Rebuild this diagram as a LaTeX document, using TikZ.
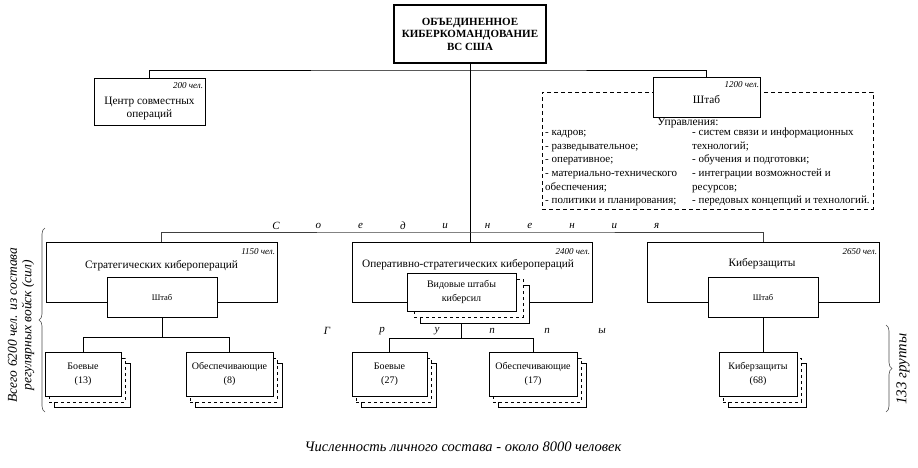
\documentclass[tikz,border=0pt]{standalone}
\usepackage{fontspec}
\setmainfont{Liberation Serif}
\usetikzlibrary{shadows,decorations.pathreplacing,calc,backgrounds}
\begin{document}
\begin{tikzpicture}[x=1pt,y=-1pt,
  bx/.style={draw=black, fill=white, inner sep=0pt, line width=0.6pt},
  lbl/.style={font=\fontsize{11.3}{13}\selectfont, align=center, inner sep=0pt},
  sm/.style={font=\fontsize{10}{14}\selectfont, align=center, inner sep=0pt},
  chel/.style={font=\itshape\fontsize{9}{10}\selectfont, inner sep=0pt},
  lst/.style={font=\fontsize{11}{12}\selectfont, inner sep=0pt},
  spc/.style={font=\itshape\fontsize{11}{12}\selectfont, inner sep=0pt},
  ln/.style={line width=0.6pt, draw=black},
  brc/.style={decorate, decoration={brace, amplitude=6pt}, line width=0.6pt, draw=black!70},
  stackb/.style={general shadow={shadow xshift=9pt, shadow yshift=-11pt, draw=black, fill=white, line width=0.6pt},
                 general shadow={shadow xshift=4pt, shadow yshift=-6pt, draw=black, fill=white, dashed, line width=0.6pt}},
  stackv/.style={general shadow={shadow xshift=13pt, shadow yshift=-12pt, draw=black, fill=white, line width=0.6pt},
                 general shadow={shadow xshift=7pt, shadow yshift=-6pt, draw=black, fill=white, dashed, line width=0.6pt}}
]
\useasboundingbox (0,0) rectangle (918,467);

% top
\node[bx, line width=1.5pt, minimum width=152pt, minimum height=58pt, font=\bfseries\fontsize{11}{12.5}\selectfont, align=center] (top) at (470,34) {ОБЪЕДИНЕННОЕ\\КИБЕРКОМАНДОВАНИЕ\\ВС США};

% centre
\node[bx, minimum width=111pt, minimum height=47pt] (centr) at (149.5,101.5) {};
\node[chel, anchor=north east] (c200) at ($(centr.north east)+(-2,5)$) {200 чел.};
\node[lbl] (centrt) at (149.5,108) {Центр совместных\\операций};

% dashed management box and HQ
\node[draw=black, dashed, dash pattern=on 4pt off 3pt, line width=0.7pt, inner sep=0pt, minimum width=331pt, minimum height=117pt] (upr) at (707.5,150.5) {};
\node[bx, minimum width=107pt, minimum height=40pt] (hq) at (706.5,97) {};
\node[chel, anchor=north east] (c1200) at ($(hq.north east)+(-1,5)$) {1200 чел.};
\node[lbl] (hqt) at (706.5,100) {Штаб};
\node[lbl, font=\fontsize{11.5}{13}\selectfont] (uprt) at (688,123) {Управления:};
\foreach \t [count=\i] in {{- кадров;},{- разведывательное;},{- оперативное;},{- материально-технического},{обеспечения;},{- политики и планирования;}}
  \node[lst, anchor=base west] (l\i) at (545,{135.3+13.7*(\i-1)}) {\t};
\foreach \t [count=\i] in {{- систем связи и информационных},{технологий;},{- обучения и подготовки;},{- интеграции возможностей и},{ресурсов;},{- передовых концепций и технологий.}}
  \node[lst, anchor=base west] (r\i) at (692,{135.3+13.7*(\i-1)}) {\t};

% Soedineniya
\foreach \l [count=\i] in {С,о,е,д,и,н,е,н,и,я}
  \node[spc] (s\i) at ({276+42.3*(\i-1)},226) {\l};

% formations
\node[bx, minimum width=231pt, minimum height=60pt] (strat) at (161.5,272) {};
\node[chel, anchor=north east] (c1150) at ($(strat.north east)+(-2,7)$) {1150 чел.};
\node[lbl] (stratt) at (161.5,266) {Стратегических киберопераций};
\node[bx, minimum width=110pt, minimum height=40pt, font=\fontsize{8.5}{10}\selectfont] (sshtab) at (162,297) {Штаб};

\node[bx, minimum width=240pt, minimum height=60pt] (oper) at (472,272) {};
\node[chel, anchor=north east] (c2400) at ($(oper.north east)+(-2,7)$) {2400 чел.};
\node[lbl] (opert) at (468,265) {Оперативно-стратегических киберопераций};
\node[bx, stackv, minimum width=109pt, minimum height=38pt, font=\fontsize{10}{14}\selectfont, align=center] (vid) at (461.5,292) {Видовые штабы\\киберсил};

\node[bx, minimum width=232pt, minimum height=60pt] (kib) at (763,272) {};
\node[chel, anchor=north east] (c2650) at ($(kib.north east)+(-2,7)$) {2650 чел.};
\node[lbl] (kibt) at (762,264) {Киберзащиты};
\node[bx, minimum width=110pt, minimum height=40pt, font=\fontsize{8.5}{10}\selectfont] (kshtab) at (763,297) {Штаб};

% Gruppy
\foreach \l [count=\i] in {Г,р,у,п,п,ы}
  \node[spc] (g\i) at ({327+55*(\i-1)},331) {\l};

% groups
\node[bx, stackb, sm, minimum width=76pt, minimum height=44pt] (b13) at (83,374) {Боевые\\(13)};
\node[bx, stackb, sm, minimum width=87pt, minimum height=44pt] (o8) at (229.5,374) {Обеспечивающие\\(8)};
\node[bx, stackb, sm, minimum width=75pt, minimum height=44pt] (b27) at (389.5,374) {Боевые\\(27)};
\node[bx, stackb, sm, minimum width=88pt, minimum height=44pt] (o17) at (533,374) {Обеспечивающие\\(17)};
\node[bx, stackb, sm, minimum width=78pt, minimum height=44pt] (k68) at (758,374) {Киберзащиты\\(68)};

% side texts
\node[rotate=90, font=\itshape\fontsize{13.5}{14.5}\selectfont, align=center, inner sep=0pt] (vsego) at (21,325) {Всего 6200 чел. из состава\\регулярных войск (сил)};
\node[rotate=90, font=\itshape\fontsize{15}{16}\selectfont, inner sep=0pt] (gr133) at (903,369) {133 группы};
\coordinate (lb1) at (45,412); \coordinate (lb2) at (45,228);
\coordinate (rb1) at (886,325); \coordinate (rb2) at (886,412);
\draw[brc] (lb1) -- (lb2);
\draw[brc] (rb1) -- (rb2);

\node[font=\itshape\fontsize{14.5}{16}\selectfont, inner sep=0pt] (cap) at (463,447) {Численность личного состава - около 8000 человек};

% connectors
\begin{scope}[on background layer]
\coordinate (bar1) at (469,70);
\coordinate (bar2) at (469,232);
\draw[ln] (top.south) -- (top.south |- oper.north);
\draw[ln] (centr.north) |- (bar1) -| (hq.north);
\draw[ln, draw=black!75, line width=0.8pt] (strat.north) |- (bar2) -| (kib.north);
\draw[ln] (sshtab.south) -- ++(0,20) coordinate (j1);
\draw[ln] (b13.north) |- (j1) -| (o8.north);
\draw[ln] (vid.south) -- ++(0,27) coordinate (j2);
\draw[ln] (b27.north) |- (j2) -| (o17.north);
\draw[ln] (kshtab.south) -- (kshtab.south |- k68.north);
\end{scope}
\end{tikzpicture}
\end{document}
